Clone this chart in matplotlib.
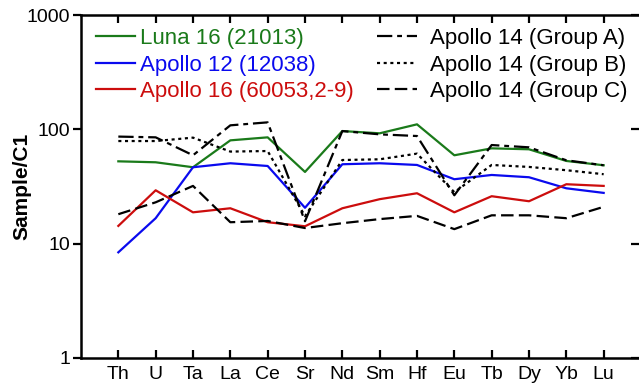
import matplotlib
matplotlib.use('Agg')
import matplotlib.pyplot as plt
import numpy as np

plt.rcParams['font.family'] = ['Liberation Sans', 'DejaVu Sans']
plt.rcParams['lines.scale_dashes'] = False

elements = ['Th', 'U', 'Ta', 'La', 'Ce', 'Sr', 'Nd', 'Sm', 'Hf', 'Eu', 'Tb', 'Dy', 'Yb', 'Lu']

luna16 = [52.5, 51.5, 46.6, 80.1, 85.1, 42.4, 96.6, 92.3, 110.6, 59.3, 68.2, 66.9, 52.9, 48.5]
apollo12 = [8.4, 16.7, 46.6, 50.5, 47.8, 20.6, 49.5, 50.5, 48.8, 36.6, 39.9, 38.1, 30.5, 27.8]
apollo16 = [14.3, 29.3, 18.8, 20.4, 15.4, 14.2, 20.4, 24.5, 27.6, 18.8, 26.0, 23.5, 33.1, 32.0]
group_a = [86.4, 85.1, 59.3, 108.4, 115.1, 15.7, 96.6, 90.4, 87.4, 26.5, 72.9, 69.6, 53.6, 48.5]
group_b = [79.0, 79.0, 84.6, 63.9, 64.6, 17.4, 53.9, 54.7, 61.3, 28.2, 48.8, 46.9, 43.9, 40.5]
group_c = [18.1, 23.0, 32.0, 15.4, 15.8, 13.7, 15.1, 16.4, 17.5, 13.4, 17.7, 17.7, 16.7, 21.0]

fig = plt.figure(figsize=(6.39, 3.84), dpi=100)
ax = fig.add_axes([81 / 639, 1 - 358 / 384, 560 / 639, 343 / 384])

x = np.arange(len(elements))
lw = 1.6
l1, = ax.plot(x, luna16, color='#1a7a1a', lw=lw, label='Luna 16 (21013)')
l2, = ax.plot(x, apollo12, color='#0a0aee', lw=lw, label='Apollo 12 (12038)')
l3, = ax.plot(x, apollo16, color='#cc0d0d', lw=lw, label='Apollo 16 (60053,2-9)')
l4, = ax.plot(x, group_a, color='black', lw=lw, dashes=(11, 3.5, 3.5, 3.5), label='Apollo 14 (Group A)')
l5, = ax.plot(x, group_b, color='black', lw=lw, dashes=(2.2, 2.6), label='Apollo 14 (Group B)')
l6, = ax.plot(x, group_c, color='black', lw=lw, dashes=(9, 3.8), label='Apollo 14 (Group C)')

ax.set_yscale('log')
ax.set_ylim(1, 1000)
ax.set_xlim(-1, len(elements))
ax.set_yticks([1, 10, 100, 1000])
ax.set_yticklabels(['1', '10', '100', '1000'])
ax.minorticks_off()
ax.set_xticks(x)
ax.set_xticklabels(elements)

for s in ax.spines.values():
    s.set_linewidth(1.8)
ax.tick_params(axis='x', direction='in', length=6, width=1.6, top=True, labelsize=14, pad=6)
ax.tick_params(axis='y', direction='out', length=6, width=1.6, labelsize=14, pad=2)

# right-hand ticks point inward
ax2 = ax.twinx()
ax2.set_yscale('log')
ax2.set_ylim(1, 1000)
ax2.set_yticks([1, 10, 100, 1000])
ax2.minorticks_off()
ax2.set_yticklabels([])
ax2.tick_params(axis='y', direction='in', length=7, width=1.6)
for s in ax2.spines.values():
    s.set_visible(False)

ax.set_ylabel('Sample/C1', fontsize=15, fontweight='bold')
ax.yaxis.set_label_coords((31 - 81) / 560, 0.5)

leg1 = fig.legend(handles=[l1, l2, l3], loc='upper left', bbox_to_anchor=(96 / 639, 1 - 28 / 384),
                  frameon=False, fontsize=16, handlelength=1.75, handletextpad=0.23,
                  labelspacing=0.25, borderpad=0, borderaxespad=0, labelcolor='linecolor')
leg2 = fig.legend(handles=[l4, l5, l6], loc='upper left', bbox_to_anchor=(377 / 639, 1 - 28 / 384),
                  frameon=False, fontsize=16, handlelength=1.8, handletextpad=0.6,
                  labelspacing=0.25, borderpad=0, borderaxespad=0)

fig.savefig('out.png', dpi=100)
